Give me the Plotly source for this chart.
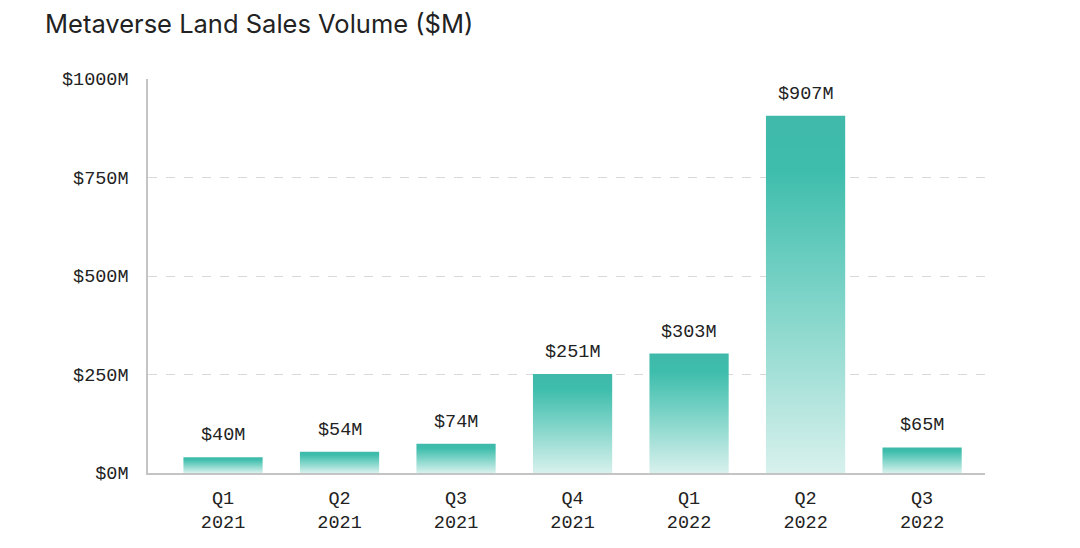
import plotly.graph_objects as go

quarters = ["Q1", "Q2", "Q3", "Q4", "Q1", "Q2", "Q3"]
years = ["2021", "2021", "2021", "2021", "2022", "2022", "2022"]
sales = [40, 54, 74, 251, 303, 907, 65]
value_labels = ["$40M", "$54M", "$74M", "$251M", "$303M", "$907M", "$65M"]
y_ticks = [0, 250, 500, 750, 1000]
y_tick_labels = ["$0M", "$250M", "$500M", "$750M", "$1000M"]

TOP = "#3ebdac"
MID = "#72d0c3"
BOTTOM = "#d8f1ed"
MONO = "Liberation Mono"
TEXT = "#222222"
bar_w = 0.68

fig = go.Figure()
for i, v in enumerate(sales):
    x0, x1 = i - bar_w / 2, i + bar_w / 2
    fig.add_trace(go.Scatter(
        x=[x0, x1, x1, x0, x0], y=[0, 0, v, v, 0],
        mode="lines", fill="toself", line=dict(width=0),
        fillgradient=dict(type="vertical",
                          colorscale=[[0, BOTTOM], [0.55, MID], [0.85, TOP], [1, "#40b9aa"]]),
        hoverinfo="skip", showlegend=False,
    ))

for i, (v, lab) in enumerate(zip(sales, value_labels)):
    fig.add_annotation(x=i, y=v, text=lab, showarrow=False, yanchor="bottom",
                       yshift=9, font=dict(family=MONO, size=18.5, color=TEXT))

fig.update_layout(
    width=1064, height=532,
    margin=dict(l=140, r=87, t=71, b=67, autoexpand=False),
    paper_bgcolor="white", plot_bgcolor="white",
    title=dict(text="Metaverse Land Sales Volume ($M)", x=0.0348, xanchor="left",
               y=0.97, yanchor="middle",
               font=dict(family="Inter", size=25.5, color=TEXT)),
    xaxis=dict(range=[-0.644, 6.54], tickvals=list(range(len(sales))),
               ticktext=[f"{q}<br>{y}" for q, y in zip(quarters, years)],
               showgrid=False, zeroline=False, showline=True, linecolor="#c4c4c4",
               linewidth=1.5, ticks="", ticklabelstandoff=7, automargin=False,
               tickfont=dict(family=MONO, size=18.5, color=TEXT), fixedrange=True),
    yaxis=dict(range=[0, 1000], tickvals=y_ticks, ticktext=y_tick_labels,
               showgrid=True, gridcolor="#d9d9d9", griddash="dash", gridwidth=1,
               zeroline=False, showline=True, linecolor="#c4c4c4", linewidth=1.5,
               ticks="", ticklabelstandoff=14, automargin=False,
               tickfont=dict(family=MONO, size=18.5, color=TEXT), fixedrange=True),
)

fig.write_html("out.html")
